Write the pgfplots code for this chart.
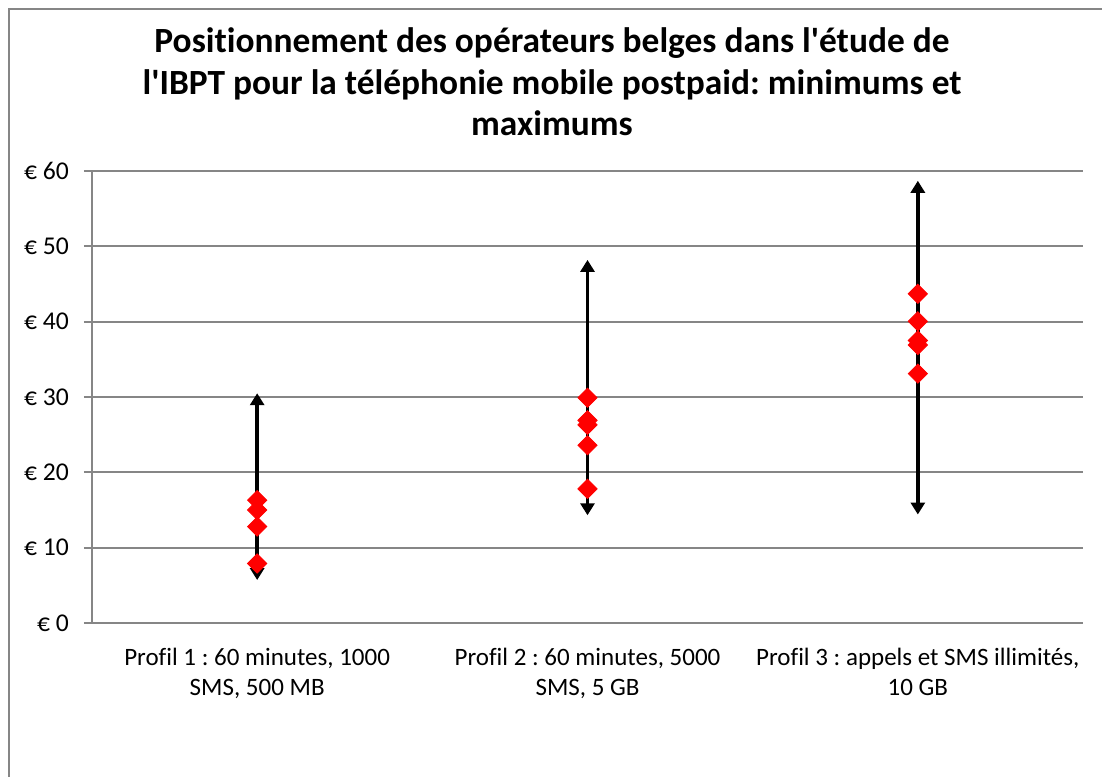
\documentclass[border=0pt]{standalone}
\usepackage{fontspec}
\setmainfont{Carlito}[Ligatures={TeXOff,NoCommon}]
\usepackage{pgfplots}
\pgfplotsset{compat=1.18}
\usetikzlibrary{arrows.meta}
\definecolor{axgray}{RGB}{134,134,134}
\frenchspacing
\begin{document}
\begin{tikzpicture}
\useasboundingbox (0,0) rectangle (551pt,388pt);
\begin{scope}
\clip (0,0) rectangle (551pt,388pt);
\draw[axgray, line width=1pt] (4.5pt,-20pt) -- (4.5pt,383.5pt) -- (600pt,383.5pt);
\end{scope}
\node[font=\fontsize{17.7}{21}\selectfont\bfseries, anchor=base, inner sep=0pt] at (276pt,361.5pt) {Positionnement des opérateurs belges dans l'étude de};
\node[font=\fontsize{17.7}{21}\selectfont\bfseries, anchor=base, inner sep=0pt] at (276pt,340.5pt) {l'IBPT pour la téléphonie mobile postpaid: minimums et};
\node[font=\fontsize{17.7}{21}\selectfont\bfseries, anchor=base, inner sep=0pt] at (276pt,320pt) {maximums};
\begin{axis}[
  at={(46pt,76.5pt)}, anchor=south west, scale only axis,
  width=495.5pt, height=226pt,
  xmin=0, xmax=3, ymin=0, ymax=60,
  axis x line=bottom, axis y line=left,
  axis line style={axgray, line width=1pt, -},
  xtick={0.5,1.5,2.5},
  xticklabels={{Profil 1 : 60 minutes, 1000\\SMS, 500 MB},{Profil 2 : 60 minutes, 5000\\SMS, 5 GB},{Profil 3 : appels et SMS illimités,\\10 GB}},
  major x tick style={draw=none},
  extra x ticks={0,1,2,3},
  extra x tick labels={},
  extra x tick style={major tick style={draw=axgray, line width=1pt}, major tick length=4pt, tick align=outside},
  ytick={0,10,...,60},
  yticklabels={€ 0,€ 10,€ 20,€ 30,€ 40,€ 50,€ 60},
  major y tick style={draw=axgray, line width=1pt},
  tick align=outside, major tick length=4pt,
  ymajorgrids, grid style={axgray, line width=1pt},
  xticklabel style={font=\fontsize{12.5}{15}\selectfont, align=center, yshift=-5pt},
  yticklabel style={font=\fontsize{12.8}{15}\selectfont, xshift=-4pt},
  clip=false,
]
\addplot[black, line width=1.75pt, {Triangle[width=7pt,length=6pt]}-{Triangle[width=7pt,length=6pt]}] coordinates {(0.5,5.7) (0.5,30.5)};
\addplot[black, line width=1.75pt, {Triangle[width=7pt,length=6pt]}-{Triangle[width=7pt,length=6pt]}] coordinates {(1.5,14.3) (1.5,48.2)};
\addplot[black, line width=1.75pt, {Triangle[width=7pt,length=6pt]}-{Triangle[width=7pt,length=6pt]}] coordinates {(2.5,14.4) (2.5,58.7)};
\addplot[only marks, mark=square*, mark size=3.4pt, mark options={rotate=45, fill=red, draw=red}] coordinates {
(0.5,16.3) (0.5,15.0) (0.5,12.8) (0.5,7.9)
(1.5,29.9) (1.5,26.9) (1.5,26.3) (1.5,23.6) (1.5,17.8)
(2.5,43.7) (2.5,40.05) (2.5,37.5) (2.5,36.9) (2.5,33.1)
};
\end{axis}
\end{tikzpicture}
\end{document}
